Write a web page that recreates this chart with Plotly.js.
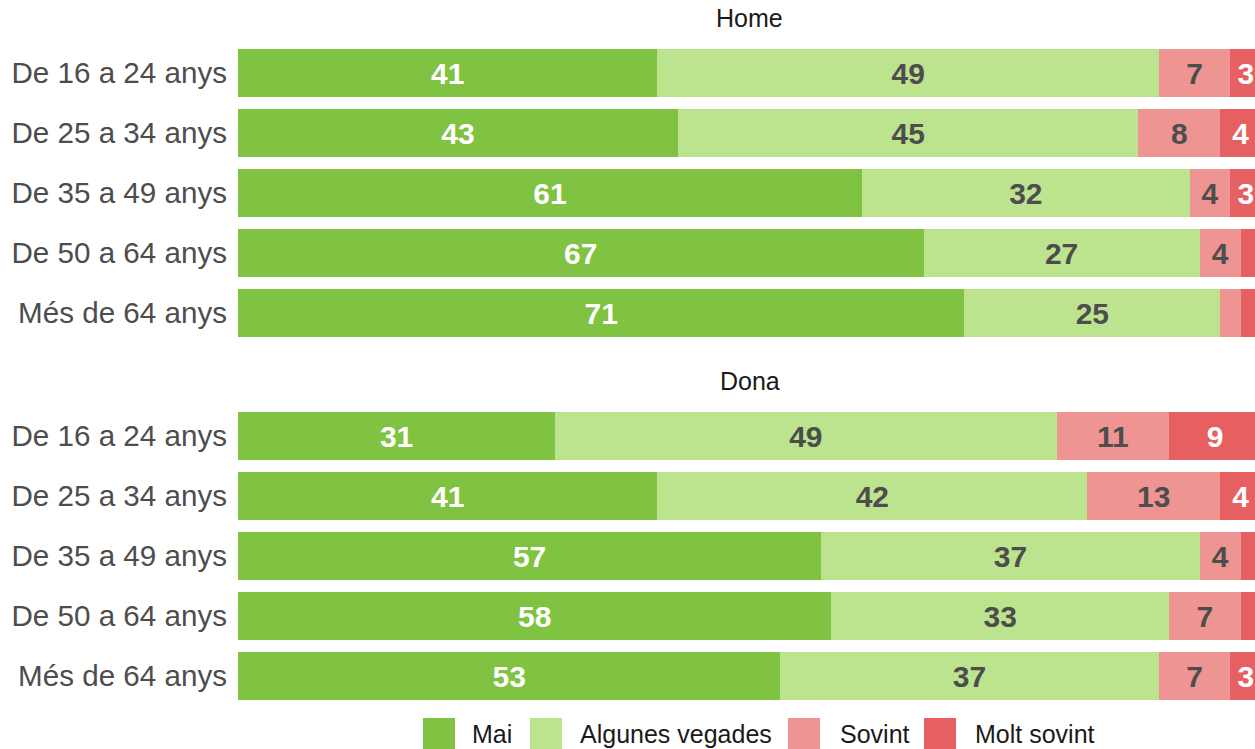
<!DOCTYPE html>
<html>
<head>
<meta charset="utf-8">
<script src="https://cdn.plot.ly/plotly-3.0.1.min.js"></script>
<style>html,body{margin:0;padding:0;background:#fff;}#chart{width:1255px;height:749px;}</style>
</head>
<body>
<div id="chart"></div>
<script>
// ---- data ----
var ages = ['De 16 a 24 anys', 'De 25 a 34 anys', 'De 35 a 49 anys', 'De 50 a 64 anys', 'Més de 64 anys'];
var seriesNames = ['Mai', 'Algunes vegades', 'Sovint', 'Molt sovint'];
var panelTitles = ['Home', 'Dona'];

var homeMai      = [41, 43, 61, 67, 71];
var homeAlgunes  = [49, 45, 32, 27, 25];
var homeSovint   = [7, 8, 4, 4, 2];
var homeMolt     = [3, 4, 3, 2, 2];

var donaMai      = [31, 41, 57, 58, 53];
var donaAlgunes  = [49, 42, 37, 33, 37];
var donaSovint   = [11, 13, 4, 7, 7];
var donaMolt     = [9, 4, 2, 2, 3];

// ---- styles ----
var colors = ['#80c241', '#bce48f', '#ee9493', '#e66061'];
var textColors = ['#ffffff', '#4d4d4d', '#4d4d4d', '#ffffff'];
var FONT = 'Liberation Sans, Arial, sans-serif';

function lab(v) { return v.map(function (d) { return d >= 3 ? String(d) : ''; }); }

var panels = [
  { vals: [homeMai, homeAlgunes, homeSovint, homeMolt], xa: 'x', ya: 'y' },
  { vals: [donaMai, donaAlgunes, donaSovint, donaMolt], xa: 'x2', ya: 'y2' }
];

var traces = [];
panels.forEach(function (p) {
  p.vals.forEach(function (v, i) {
    traces.push({
      type: 'bar',
      orientation: 'h',
      y: ages,
      x: v,
      name: seriesNames[i],
      xaxis: p.xa,
      yaxis: p.ya,
      width: 0.8,
      marker: { color: colors[i], line: { width: 0 } },
      text: lab(v),
      textposition: 'inside',
      insidetextanchor: 'middle',
      constraintext: 'none',
      textfont: { family: FONT, size: 30, color: textColors[i], weight: 'bold' },
      hoverinfo: 'skip',
      showlegend: false
    });
  });
});

var W = 1255, H = 749, L = 238;
function px2x(px) { return (px - L) / (W - L); }
function py2y(py) { return (H - py) / H; }

var xRange = [0, 99.4];
var axX = { range: xRange, showgrid: false, zeroline: false, showline: false, showticklabels: false, fixedrange: true };
var axY = {
  type: 'category', autorange: 'reversed', showgrid: false, zeroline: false, showline: false,
  ticks: '', ticklabelstandoff: 10,
  tickfont: { family: FONT, size: 29.6, color: '#4d4d4d' }
};

var layout = {
  width: W, height: H,
  margin: { l: L, r: 0, t: 0, b: 0, pad: 0 },
  paper_bgcolor: '#ffffff', plot_bgcolor: '#ffffff',
  barmode: 'stack',
  bargap: 0.2,
  xaxis: Object.assign({}, axX, { anchor: 'y' }),
  xaxis2: Object.assign({}, axX, { anchor: 'y2' }),
  yaxis: Object.assign({}, axY, { domain: [py2y(343), py2y(43)], anchor: 'x' }),
  yaxis2: Object.assign({}, axY, { domain: [py2y(706), py2y(406)], anchor: 'x2' }),
  showlegend: false,
  annotations: [],
  shapes: []
};

// panel titles
[18, 381].forEach(function (py, i) {
  layout.annotations.push({
    text: panelTitles[i], xref: 'x', x: 50, yref: 'paper', y: py2y(py),
    xanchor: 'center', yanchor: 'middle', showarrow: false,
    font: { family: FONT, size: 25, color: '#1a1a1a' }
  });
});

// manual legend (positions in px)
var legSquares = [423, 530, 788, 924];
var legTexts = [470, 578, 838, 973];
seriesNames.forEach(function (n, i) {
  layout.shapes.push({
    type: 'rect', xref: 'paper', yref: 'paper',
    x0: px2x(legSquares[i]), x1: px2x(legSquares[i] + 32),
    y0: py2y(749), y1: py2y(718),
    fillcolor: colors[i], line: { width: 0 }
  });
  layout.annotations.push({
    text: n, xref: 'paper', x: px2x(legTexts[i]), yref: 'paper', y: py2y(734),
    xanchor: 'left', yanchor: 'middle', showarrow: false,
    font: { family: FONT, size: 25, color: '#1a1a1a' }
  });
});

Plotly.newPlot('chart', traces, layout, { displayModeBar: false, staticPlot: true });
</script>
</body>
</html>
